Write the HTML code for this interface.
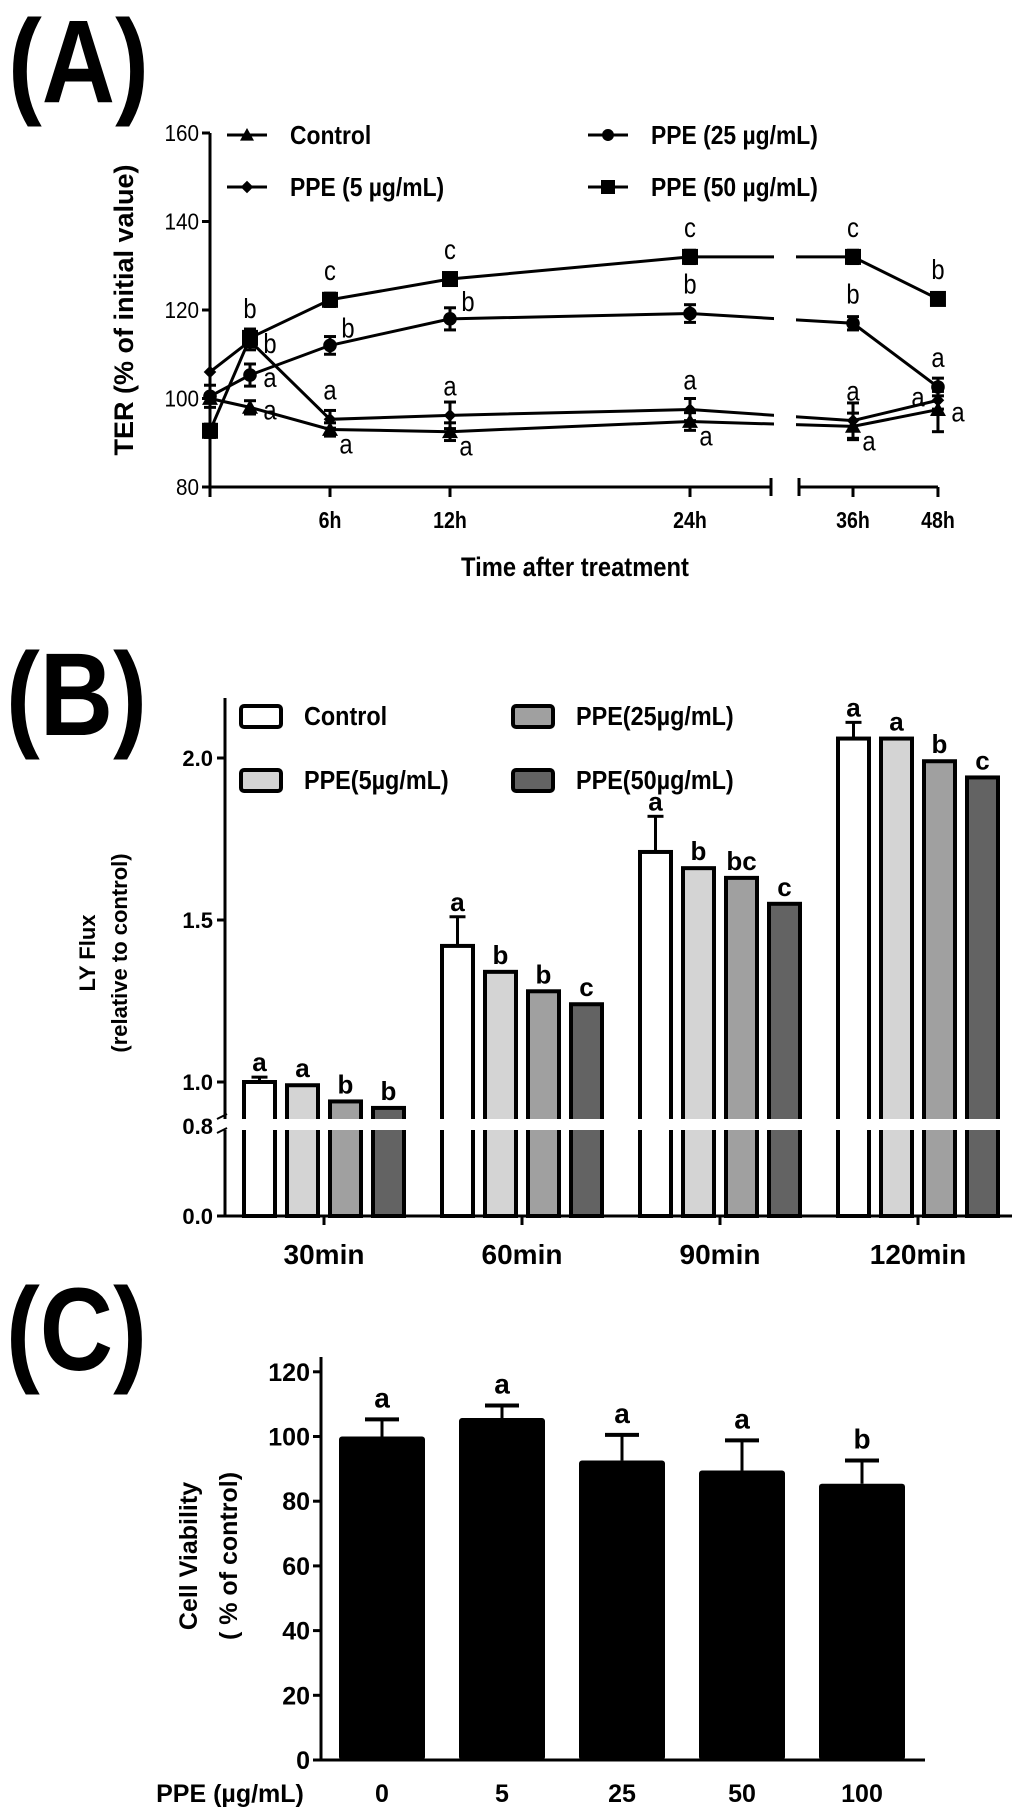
<!DOCTYPE html>
<html><head><meta charset="utf-8"><style>
html,body{margin:0;padding:0;background:#fff;}
svg{display:block;font-family:"Liberation Sans",Arial,sans-serif;font-weight:bold;}
</style></head><body>
<svg id="fig" width="1024" height="1817" viewBox="0 0 1024 1817" xmlns="http://www.w3.org/2000/svg">
<rect width="1024" height="1817" fill="#fff"/>
<g id="panelA"></g>
<g id="panelB"></g>
<g id="panelC"></g>
</svg>
<script>
// ---------- Panel A data ----------
const timesA = [0, 2, 6, 12, 24, 36, 48];
const xTickLabelsA = ['6h', '12h', '24h', '36h', '48h'];
const xTickTimesA = [6, 12, 24, 36, 48];
const yTicksA = [80, 100, 120, 140, 160];
const seriesNamesA = ['Control', 'PPE (5 µg/mL)', 'PPE (25 µg/mL)', 'PPE (50 µg/mL)'];
const controlA = [100, 98, 93, 92.5, 94.8, 93.7, 97.5];
const ppe5A = [106, 113, 95.3, 96.2, 97.5, 95, 99.6];
const ppe25A = [100.5, 105.3, 112, 118, 119.2, 117, 102.6];
const ppe50A = [92.7, 113.7, 122.3, 127, 132, 132, 122.5];
const controlErrA = [1, 1.5, 1.5, 2, 2, 3, 5];
const ppe5ErrA = [0, 2, 2, 3, 2.5, 4, 2];
const ppe25ErrA = [2.5, 2.5, 2, 2.5, 2, 1.5, 2];
const ppe50ErrA = [1.5, 2, 1.5, 1, 1.5, 1.5, 1];
const controlLetA = ['', 'a', 'a', 'a', 'a', 'a', 'a'];
const ppe5LetA = ['', 'b', 'a', 'a', 'a', 'a', 'a'];
const ppe25LetA = ['', 'a', 'b', 'b', 'b', 'b', 'a'];
const ppe50LetA = ['', 'b', 'c', 'c', 'c', 'c', 'b'];

// ---------- Panel B data ----------
const groupsB = ['30min', '60min', '90min', '120min'];
const seriesNamesB = ['Control', 'PPE(5µg/mL)', 'PPE(25µg/mL)', 'PPE(50µg/mL)'];
const controlB = [1.00, 1.42, 1.71, 2.06];
const ppe5B = [0.99, 1.34, 1.66, 2.06];
const ppe25B = [0.94, 1.28, 1.63, 1.99];
const ppe50B = [0.92, 1.24, 1.55, 1.94];
const controlErrB = [0.015, 0.09, 0.11, 0.05];
const controlLetB = ['a', 'a', 'a', 'a'];
const ppe5LetB = ['a', 'b', 'b', 'a'];
const ppe25LetB = ['b', 'b', 'bc', 'b'];
const ppe50LetB = ['b', 'c', 'c', 'c'];
const yTicksB = [1.0, 1.5, 2.0];
const yTickLabelsB = ['1.0', '1.5', '2.0'];

// ---------- Panel C data ----------
const dosesC = ['0', '5', '25', '50', '100'];
const viabilityC = [100, 105.7, 92.6, 89.5, 85.4];
const viabilityErrC = [5.3, 3.9, 7.9, 9.3, 7.2];
const lettersC = ['a', 'a', 'a', 'a', 'b'];
const yTicksC = [0, 20, 40, 60, 80, 100, 120];

const NS = 'http://www.w3.org/2000/svg';
function mk(parent, tag, attrs, text) {
  const e = document.createElementNS(NS, tag);
  for (const k in attrs) e.setAttribute(k, attrs[k]);
  if (text !== undefined) e.textContent = text;
  parent.appendChild(e);
  return e;
}

// ================= PANEL A =================
(function () {
  const g = document.getElementById('panelA');
  const x0 = 210, yBase = 487, pxPerUnit = 88.5 / 20;
  const seg1End = 771, seg2Start = 799;
  const xA = t => t <= 24 ? x0 + t * 20 : 853 + (t - 36) * 7.08;
  const yA = v => yBase - (v - 80) * pxPerUnit;

  let lab = mk(g, 'text', {x: 8, y: 102, 'font-size': 118, transform: 'translate(8 0) scale(0.86 1) translate(-8 0)'}, '(A)');
  
  

  // y axis
  let ax = mk(g, 'line', {x1: x0, y1: yBase, x2: x0, y2: yA(160), stroke: '#000', 'stroke-width': 3});
  
  
  yTicksA.forEach(v => {
    mk(g, 'line', {x1: x0 - 8, y1: yA(v), x2: x0, y2: yA(v), stroke: '#000', 'stroke-width': 3});
    const t = mk(g, 'text', {x: x0 - 11, y: yA(v) + 8, 'font-size': 23, 'text-anchor': 'end', 'font-weight': 'normal', transform: `translate(${x0-11} 0) scale(0.9 1) translate(${-(x0-11)} 0)`}, String(v));
    
    
  });
  // x axis segments
  let xa1 = mk(g, 'line', {x1: x0, y1: yBase, x2: seg1End, y2: yBase, stroke: '#000', 'stroke-width': 3});
  
  
  let xa2 = mk(g, 'line', {x1: seg2Start, y1: yBase, x2: xA(48), y2: yBase, stroke: '#000', 'stroke-width': 3});
  
  
  mk(g, 'line', {x1: seg1End, y1: yBase - 9, x2: seg1End, y2: yBase + 9, stroke: '#000', 'stroke-width': 3});
  mk(g, 'line', {x1: seg2Start, y1: yBase - 9, x2: seg2Start, y2: yBase + 9, stroke: '#000', 'stroke-width': 3});
  mk(g, 'line', {x1: x0, y1: yBase, x2: x0, y2: yBase + 10, stroke: '#000', 'stroke-width': 3});
  xTickTimesA.forEach((t, i) => {
    mk(g, 'line', {x1: xA(t), y1: yBase, x2: xA(t), y2: yBase + 10, stroke: '#000', 'stroke-width': 3});
    const tl = mk(g, 'text', {x: xA(t), y: 528, 'font-size': 23, 'text-anchor': 'middle', transform: `translate(${xA(t)} 0) scale(0.85 1) translate(${-xA(t)} 0)`}, xTickLabelsA[i]);
    
    
  });
  let xt = mk(g, 'text', {x: 575, y: 576, 'font-size': 27, 'text-anchor': 'middle', transform: 'translate(575 0) scale(0.88 1) translate(-575 0)'}, 'Time after treatment');
  
  
  let yt = mk(g, 'text', {x: 0, y: 0, 'font-size': 27, 'text-anchor': 'middle', transform: 'translate(133 310) rotate(-90) scale(1 1)'}, 'TER (% of initial value)');
  
  

  function marker(parent, shape, cx, cy, s) {
    if (shape === 'tri') return mk(parent, 'polygon', {points: `${cx},${cy - s} ${cx - s},${cy + s * 0.8} ${cx + s},${cy + s * 0.8}`, fill: '#000'});
    if (shape === 'dia') return mk(parent, 'polygon', {points: `${cx},${cy - s * 0.7} ${cx + s * 0.7},${cy} ${cx},${cy + s * 0.7} ${cx - s * 0.7},${cy}`, fill: '#000'});
    if (shape === 'cir') return mk(parent, 'circle', {cx: cx, cy: cy, r: s * 0.85, fill: '#000'});
    return mk(parent, 'rect', {x: cx - s, y: cy - s, width: 2 * s, height: 2 * s, fill: '#000'});
  }

  const series = [
    {name: 'control', vals: controlA, err: controlErrA, let: controlLetA, shape: 'tri', pos: ['', 'r', 'dr', 'dr', 'dr', 'dr', 'r']},
    {name: 'ppe-5', vals: ppe5A, err: ppe5ErrA, let: ppe5LetA, shape: 'dia', pos: ['', 'r', 'u', 'u', 'u', 'u', 'l']},
    {name: 'ppe-25', vals: ppe25A, err: ppe25ErrA, let: ppe25LetA, shape: 'cir', pos: ['', 'r', 'ur', 'ur', 'u', 'u', 'u']},
    {name: 'ppe-50', vals: ppe50A, err: ppe50ErrA, let: ppe50LetA, shape: 'sq', pos: ['', 'u', 'u', 'u', 'u', 'u', 'u']}
  ];
  series.forEach(s => {
    const sg = mk(g, 'g', {});
    
    
    const pts = s.vals.map((v, i) => `${xA(timesA[i])},${yA(v)}`).join(' ');
    const pl = mk(sg, 'polyline', {points: pts, fill: 'none', stroke: '#000', 'stroke-width': 3});
    
    
    s.vals.forEach((v, i) => {
      const cx = xA(timesA[i]), cy = yA(v);
      if (s.err[i] > 0) {
        const e1 = yA(v + s.err[i]), e2 = yA(v - s.err[i]);
        mk(sg, 'line', {x1: cx, y1: e1, x2: cx, y2: e2, stroke: '#000', 'stroke-width': 3});
        mk(sg, 'line', {x1: cx - 6, y1: e1, x2: cx + 6, y2: e1, stroke: '#000', 'stroke-width': 3});
        mk(sg, 'line', {x1: cx - 6, y1: e2, x2: cx + 6, y2: e2, stroke: '#000', 'stroke-width': 3});
      }
      const m = marker(sg, s.shape, cx, cy, s.shape === 'dia' ? 9 : 8);
      
      
      if (s.let[i]) {
        const p = s.pos[i];
        let lx = cx, ly = cy;
        if (p === 'u') { ly = cy - 20; }
        if (p === 'r') { lx = cx + 20; ly = cy + 12; }
        if (p === 'ur') { lx = cx + 18; ly = cy - 8; }
        if (p === 'dr') { lx = cx + 16; ly = cy + 24; }
        if (p === 'l') { lx = cx - 20; ly = cy + 6; }
        const lt = mk(sg, 'text', {x: lx, y: ly, 'font-size': 28, 'text-anchor': 'middle', 'font-weight': 'normal', transform: `translate(${lx} 0) scale(0.85 1) translate(${-lx} 0)`}, s.let[i]);
        
        
      }
    });
  });
  // gap in plot lines (axis break)
  mk(g, 'rect', {x: seg1End + 3, y: yA(140), width: seg2Start - seg1End - 6, height: yA(88) - yA(140), fill: '#fff'});

  // legend
  const legPos = [[227, 135], [227, 187], [588, 135], [588, 187]];
  const legShapes = ['tri', 'dia', 'cir', 'sq'];
  seriesNamesA.forEach((n, i) => {
    const lg = mk(g, 'g', {});
    
    
    const [lx, ly] = legPos[i];
    mk(lg, 'line', {x1: lx, y1: ly, x2: lx + 40, y2: ly, stroke: '#000', 'stroke-width': 3});
    marker(lg, legShapes[i], lx + 20, ly, legShapes[i] === 'dia' ? 9 : 7);
    mk(lg, 'text', {x: lx + 63, y: ly + 9, 'font-size': 26, transform: `translate(${lx+63} 0) scale(0.88 1) translate(${-(lx+63)} 0)`}, n);
  });
})();

// ================= PANEL B =================
(function () {
  const g = document.getElementById('panelB');
  const x0 = 225, yZero = 1216, yOne = 1082, pxPerUnit = 324;
  const yB = v => v >= 0.9 ? yOne - (v - 1) * pxPerUnit : yZero - (v / 0.8) * (yZero - 1126);
  const groupX = i => 324 + i * 198;
  const barW = 31, barStep = 43;
  const fills = ['#ffffff', '#d4d4d4', '#a0a0a0', '#636363'];

  let lab = mk(g, 'text', {x: 6, y: 735, 'font-size': 118, transform: 'translate(6 0) scale(0.86 1) translate(-6 0)'}, '(B)');
  
  

  let ax = mk(g, 'line', {x1: x0, y1: yZero, x2: x0, y2: 698, stroke: '#000', 'stroke-width': 3});
  
  
  let xa = mk(g, 'line', {x1: x0, y1: yZero, x2: 1012, y2: yZero, stroke: '#000', 'stroke-width': 3});
  
  

  const tickVals = yTicksB.slice();
  tickVals.forEach((v, i) => {
    mk(g, 'line', {x1: x0 - 8, y1: yB(v), x2: x0, y2: yB(v), stroke: '#000', 'stroke-width': 3});
    const t = mk(g, 'text', {x: x0 - 12, y: yB(v) + 8, 'font-size': 22, 'text-anchor': 'end'}, yTickLabelsB[i]);
    
    
  });
  [[0.0, '0.0', yZero], [0.8, '0.8', 1126]].forEach(a => {
    mk(g, 'line', {x1: x0 - 8, y1: a[2], x2: x0, y2: a[2], stroke: '#000', 'stroke-width': 3});
    const t = mk(g, 'text', {x: x0 - 12, y: a[2] + 8, 'font-size': 22, 'text-anchor': 'end'}, a[1]);
    
    
  });

  const all = [controlB, ppe5B, ppe25B, ppe50B];
  const lets = [controlLetB, ppe5LetB, ppe25LetB, ppe50LetB];
  groupsB.forEach((gname, gi) => {
    const gx = groupX(gi);
    mk(g, 'line', {x1: gx, y1: yZero, x2: gx, y2: yZero + 9, stroke: '#000', 'stroke-width': 3});
    const tl = mk(g, 'text', {x: gx, y: 1264, 'font-size': 28, 'text-anchor': 'middle'}, gname);
    
    
    all.forEach((ser, si) => {
      const cx = gx + (si - 1.5) * barStep;
      const top = yB(ser[gi]);
      const r = mk(g, 'rect', {x: cx - barW / 2, y: top, width: barW, height: yZero - top, fill: fills[si], stroke: '#000', 'stroke-width': 4});
      
      
      let ly = top - 8;
      if (si === 0) {
        const et = yB(ser[gi] + controlErrB[gi]);
        mk(g, 'line', {x1: cx, y1: top, x2: cx, y2: et, stroke: '#000', 'stroke-width': 3});
        mk(g, 'line', {x1: cx - 8, y1: et, x2: cx + 8, y2: et, stroke: '#000', 'stroke-width': 3});
        ly = et - 6;
      }
      const lt = mk(g, 'text', {x: cx, y: ly, 'font-size': 26, 'text-anchor': 'middle'}, lets[si][gi]);
      
      
    });
  });
  // axis break
  const br = mk(g, 'rect', {x: x0 - 10, y: 1119, width: 1012 - x0 + 10, height: 11, fill: '#fff'});
  
  
  mk(g, 'line', {x1: x0 - 8, y1: 1119, x2: x0 + 2, y2: 1114, stroke: '#000', 'stroke-width': 2});
  mk(g, 'line', {x1: x0 - 8, y1: 1133, x2: x0 + 2, y2: 1128, stroke: '#000', 'stroke-width': 2});

  // y title
  const yt = mk(g, 'text', {'font-size': 22, 'text-anchor': 'middle', 'font-weight': 'normal', transform: 'translate(95 953) rotate(-90)'});
  
  
  mk(yt, 'tspan', {x: 0, y: 0, 'font-weight': 'bold'}, 'LY Flux');
  mk(yt, 'tspan', {x: 0, y: 32, 'font-weight': 'bold'}, '(relative to control)');

  // legend
  const legPos = [[241, 716], [241, 780], [513, 716], [513, 780]];
  const legOrder = [0, 1, 2, 3];
  legOrder.forEach(i => {
    const lg = mk(g, 'g', {});
    
    
    const [lx, ly] = legPos[i];
    mk(lg, 'rect', {x: lx, y: ly - 10, width: 40, height: 21, rx: 3, fill: fills[i], stroke: '#000', 'stroke-width': 4});
    mk(lg, 'text', {x: lx + 63, y: ly + 9, 'font-size': 26, transform: `translate(${lx+63} 0) scale(0.9 1) translate(${-(lx+63)} 0)`}, seriesNamesB[i]);
  });
})();

// ================= PANEL C =================
(function () {
  const g = document.getElementById('panelC');
  const x0 = 321, yZero = 1760, px = 647 / 200;
  const yC = v => yZero - v * px;
  const barX = i => 382 + i * 120;
  const barW = 86;

  let lab = mk(g, 'text', {x: 6, y: 1370, 'font-size': 118, transform: 'translate(6 0) scale(0.86 1) translate(-6 0)'}, '(C)');
  
  

  let ax = mk(g, 'line', {x1: x0, y1: yZero, x2: x0, y2: 1357, stroke: '#000', 'stroke-width': 3});
  
  
  let xa = mk(g, 'line', {x1: x0 - 8, y1: yZero, x2: 925, y2: yZero, stroke: '#000', 'stroke-width': 3});
  
  
  yTicksC.forEach(v => {
    mk(g, 'line', {x1: x0 - 8, y1: yC(v), x2: x0, y2: yC(v), stroke: '#000', 'stroke-width': 3});
    const t = mk(g, 'text', {x: x0 - 11, y: yC(v) + 9, 'font-size': 25, 'text-anchor': 'end'}, String(v));
    
    
  });
  dosesC.forEach((d, i) => {
    const cx = barX(i);
    const top = yC(viabilityC[i]);
    const r = mk(g, 'rect', {x: cx - barW / 2, y: top, width: barW, height: yZero - top, rx: 3, fill: '#000'});
    
    
    const et = yC(viabilityC[i] + viabilityErrC[i]);
    mk(g, 'line', {x1: cx, y1: top, x2: cx, y2: et, stroke: '#000', 'stroke-width': 3});
    mk(g, 'line', {x1: cx - 17, y1: et, x2: cx + 17, y2: et, stroke: '#000', 'stroke-width': 4});
    const lt = mk(g, 'text', {x: cx, y: et - 12, 'font-size': 28, 'text-anchor': 'middle'}, lettersC[i]);
    
    
    const tl = mk(g, 'text', {x: cx, y: 1802, 'font-size': 25, 'text-anchor': 'middle'}, d);
    
    
  });
  const xt = mk(g, 'text', {x: 230, y: 1802, 'font-size': 25, 'text-anchor': 'middle'}, 'PPE (µg/mL)');
  
  
  const yt = mk(g, 'text', {'font-size': 25, 'text-anchor': 'middle', transform: 'translate(197 1556) rotate(-90)'});
  
  
  mk(yt, 'tspan', {x: 0, y: 0}, 'Cell Viability');
  mk(yt, 'tspan', {x: 0, y: 40}, '( % of control)');
})();
</script>
</body></html>
